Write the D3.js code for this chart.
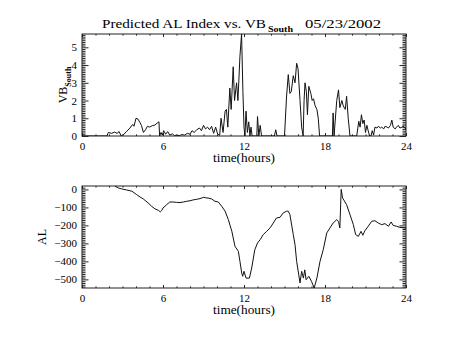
<!DOCTYPE html>
<html>
<head>
<meta charset="utf-8">
<script src="https://cdn.jsdelivr.net/npm/d3@7/dist/d3.min.js"></script>
<style>
  html, body { margin: 0; padding: 0; background: #fff; }
  svg { display: block; }
  text { font-family: "Liberation Serif", "DejaVu Serif", serif; fill: #000; }
  .domain { stroke: none; }
  .tick line { stroke: #222; stroke-width: 1; }
</style>
</head>
<body>
<svg id="chart" width="453" height="340"></svg>
<script>
// Time axis (hours)
const hourTicks = [0, 6, 12, 18, 24];
const hourMinor = d3.range(0, 25, 1);

// Southward component of VB (upper panel)
const vbHours = [0, 1.85, 1.95, 2.2, 2.4, 2.6, 2.75, 2.9, 3.1, 3.3, 3.55, 3.75, 3.85, 4.0, 4.15, 4.3, 4.4, 4.55, 4.7, 4.85, 5.0, 5.2, 5.4, 5.6, 5.7, 5.75, 5.85, 5.95, 6.05, 6.2, 6.35, 6.5, 6.7, 6.85, 7.0, 7.2, 7.4, 7.6, 7.8, 8.0, 8.15, 8.3, 8.5, 8.7, 8.85, 9.0, 9.15, 9.3, 9.45, 9.6, 9.75, 9.9, 10.05, 10.2, 10.3, 10.45, 10.6, 10.7, 10.8, 10.95, 11.05, 11.2, 11.3, 11.45, 11.55, 11.7, 11.82, 11.92, 12.0, 12.07, 12.15, 12.25, 12.35, 12.44, 12.52, 12.6, 12.95, 13.0, 13.1, 13.2, 13.3, 14.25, 14.35, 14.45, 15.0, 15.15, 15.28, 15.4, 15.5, 15.65, 15.78, 15.9, 16.0, 16.15, 16.27, 16.38, 16.45, 16.52, 16.62, 16.7, 16.8, 16.95, 17.05, 17.15, 17.27, 17.4, 17.5, 17.6, 18.55, 18.6, 18.67, 18.87, 19.0, 19.1, 19.25, 19.35, 19.5, 19.6, 19.72, 19.85, 20.35, 20.5, 20.6, 20.7, 20.8, 20.9, 21.0, 21.1, 21.2, 21.3, 21.4, 21.5, 21.6, 21.7, 21.85, 21.95, 22.1, 22.2, 22.35, 22.45, 22.6, 22.7, 22.85, 22.95, 23.05, 23.2, 23.3, 23.43, 23.55, 23.7, 23.8, 23.9, 24];
const vbSouth = [0, 0, 0.2, 0.15, 0.22, 0.15, 0.25, 0, 0.1, 0.25, 0.45, 0.65, 0.55, 1.0, 0.95, 0.75, 0.6, 0.2, 0.35, 0.55, 0.5, 0.58, 0.62, 0.75, 0.8, 0, 0.2, 0.05, 0.3, 0.1, 0.25, 0.05, 0.12, 0.02, 0.05, 0.02, 0.08, 0.05, 0.15, 0.1, 0.3, 0.2, 0.35, 0.45, 0.3, 0.6, 0.4, 0.5, 0.35, 0.55, 0.15, 0.5, 0.1, 0.05, 1.0, 0.2, 1.4, 1.5, 0.5, 2.7, 1.5, 3.9, 2.0, 3.0, 2.0, 4.5, 5.75, 2.5, 0.5, 0, 1.4, 0.2, 0.8, 0, 0.5, 0, 0, 1.1, 0, 0.6, 0, 0, 0.35, 0, 0, 2.2, 3.46, 2.4, 2.5, 3.4, 3.0, 4.1, 3.8, 2.0, 0.5, 0, 2.0, 3.0, 2.5, 1.2, 2.8, 2.4, 2.0, 2.1, 1.7, 1.5, 1.0, 0, 0, 1.3, 0, 2.0, 2.6, 1.6, 2.0, 1.7, 1.5, 2.24, 1.0, 0, 0, 0.83, 0.5, 1.2, 0.7, 0.9, 0.2, 0.6, 0.3, 0, 0, 0.3, 0.05, 0.5, 0.45, 0.55, 0.45, 0.5, 0.4, 0.55, 0.5, 0.45, 0.6, 0.9, 0.5, 0.4, 0.5, 0.6, 0.45, 0.5, 0.55, 0.45, 0.4];
const vbTicks = [0, 1, 2, 3, 4, 5];

// Predicted AL index (lower panel)
const alHours = [2.44, 2.7, 2.94, 3.3, 3.7, 4.05, 4.3, 4.54, 4.9, 5.16, 5.4, 5.65, 5.8, 5.9, 6.0, 6.27, 6.5, 6.76, 7.0, 7.26, 7.5, 7.75, 8.0, 8.25, 8.5, 8.74, 9.0, 9.2, 9.4, 9.6, 9.85, 10.1, 10.35, 10.6, 10.84, 11.1, 11.33, 11.58, 11.7, 11.83, 11.9, 12.0, 12.15, 12.4, 12.57, 12.8, 13.0, 13.2, 13.43, 13.68, 13.93, 14.17, 14.4, 14.67, 14.9, 15.16, 15.28, 15.4, 15.65, 15.78, 15.9, 16.15, 16.27, 16.4, 16.5, 16.6, 16.8, 17.0, 17.2, 17.4, 17.63, 17.87, 18.13, 18.37, 18.6, 18.87, 19.0, 19.1, 19.2, 19.3, 19.6, 19.85, 20.1, 20.27, 20.47, 20.67, 20.8, 20.96, 21.2, 21.46, 21.7, 21.95, 22.2, 22.44, 22.7, 22.9, 23.05, 23.3, 23.55, 23.93, 24];
const alIndex = [18, 8, 3, -3, -10, -29, -42, -53, -75, -94, -108, -116, -125, -118, -103, -85, -70, -70, -72, -73, -70, -66, -63, -58, -55, -51, -44, -47, -49, -53, -66, -70, -94, -121, -168, -233, -316, -344, -400, -465, -483, -455, -493, -493, -437, -335, -298, -279, -251, -233, -214, -187, -159, -155, -131, -121, -121, -140, -251, -307, -400, -520, -455, -493, -447, -502, -483, -511, -548, -493, -400, -335, -242, -214, -187, -168, -178, -214, 0, -47, -85, -140, -196, -251, -261, -233, -255, -229, -205, -177, -174, -187, -196, -190, -205, -181, -200, -205, -211, -214, -215];
const alTicks = [0, -100, -200, -300, -400, -500];

const svg = d3.select("#chart");
const left = 82, right = 406;

function panel(opts) {
  const { top, bottom, domain, hours, values, yTicks, yMinorStep, id } = opts;
  const x = d3.scaleLinear().domain([0, 24]).range([left, right]);
  const y = d3.scaleLinear().domain(domain).range([bottom, top]);
  const g = svg.append("g");

  const yMinor = d3.range(Math.ceil(domain[0] / yMinorStep) * yMinorStep, domain[1] + 1e-9, yMinorStep)
    .filter(v => !yTicks.some(t => Math.abs(t - v) < 1e-9));

  // x axes: inward ticks on bottom and top
  g.append("g").attr("transform", `translate(0,${bottom})`)
    .call(d3.axisBottom(x).tickValues(hourMinor).tickSize(-1.6).tickFormat(""));
  g.append("g").attr("transform", `translate(0,${bottom})`)
    .call(d3.axisBottom(x).tickValues(hourTicks).tickSize(-3).tickPadding(6.5).tickFormat(d3.format("d")))
    .selectAll("text").attr("font-size", 11);
  g.append("g").attr("transform", `translate(0,${top})`)
    .call(d3.axisTop(x).tickValues(hourMinor).tickSize(-1.6).tickFormat(""));
  g.append("g").attr("transform", `translate(0,${top})`)
    .call(d3.axisTop(x).tickValues(hourTicks).tickSize(-3).tickFormat(""));

  // y axes: inward ticks on left and right
  g.append("g").attr("transform", `translate(${left},0)`)
    .call(d3.axisLeft(y).tickValues(yMinor).tickSize(-3.5).tickFormat(""));
  g.append("g").attr("transform", `translate(${left},0)`)
    .call(d3.axisLeft(y).tickValues(yTicks).tickSize(-6.5).tickPadding(5).tickFormat(d3.format("d")))
    .selectAll("text").attr("font-size", 11);
  g.append("g").attr("transform", `translate(${right},0)`)
    .call(d3.axisRight(y).tickValues(yMinor).tickSize(-3.5).tickFormat(""));
  g.append("g").attr("transform", `translate(${right},0)`)
    .call(d3.axisRight(y).tickValues(yTicks).tickSize(-6.5).tickFormat(""));

  // frame
  g.append("rect")
    .attr("x", left).attr("y", top)
    .attr("width", right - left).attr("height", bottom - top)
    .attr("fill", "none").attr("stroke", "#222").attr("stroke-width", 1);

  // data line, clipped to the plot window
  svg.append("clipPath").attr("id", id)
    .append("rect").attr("x", left).attr("y", top)
    .attr("width", right - left).attr("height", bottom - top);
  const line = d3.line().x((d, i) => x(hours[i])).y(d => y(d));
  g.append("path")
    .datum(values)
    .attr("clip-path", `url(#${id})`)
    .attr("d", line)
    .attr("fill", "none")
    .attr("stroke", "#111")
    .attr("stroke-width", 1)
    .attr("stroke-linejoin", "round");

  // x title
  g.append("text")
    .attr("x", (left + right) / 2).attr("y", bottom + 26)
    .attr("text-anchor", "middle").attr("font-size", 12)
    .attr("textLength", 62).attr("lengthAdjust", "spacingAndGlyphs")
    .text("time(hours)");
  return { x, y, g };
}

panel({ top: 34, bottom: 136, domain: [0, 5.75], hours: vbHours, values: vbSouth,
        yTicks: vbTicks, yMinorStep: 0.1, id: "clipVB" });
panel({ top: 186, bottom: 288, domain: [-548, 19], hours: alHours, values: alIndex,
        yTicks: alTicks, yMinorStep: 10, id: "clipAL" });

// title
svg.append("text").attr("x", 102).attr("y", 28).attr("font-size", 13)
  .attr("textLength", 164).attr("lengthAdjust", "spacingAndGlyphs")
  .text("Predicted AL Index vs. VB");
svg.append("text").attr("x", 268).attr("y", 32).attr("font-size", 8).attr("font-weight", "bold")
  .attr("textLength", 25).attr("lengthAdjust", "spacingAndGlyphs")
  .text("South");
svg.append("text").attr("x", 305).attr("y", 28).attr("font-size", 13)
  .attr("textLength", 76).attr("lengthAdjust", "spacingAndGlyphs")
  .text("05/23/2002");

// y titles
const vbLabel = svg.append("text")
  .attr("transform", "translate(67,85) rotate(-90)")
  .attr("text-anchor", "middle").attr("font-size", 12);
vbLabel.append("tspan").text("VB");
vbLabel.append("tspan").attr("font-size", 8).attr("font-weight", "bold").attr("dy", 4).text("South");

svg.append("text")
  .attr("transform", "translate(46,237) rotate(-90)")
  .attr("text-anchor", "middle").attr("font-size", 12)
  .text("AL");
</script>
</body>
</html>
